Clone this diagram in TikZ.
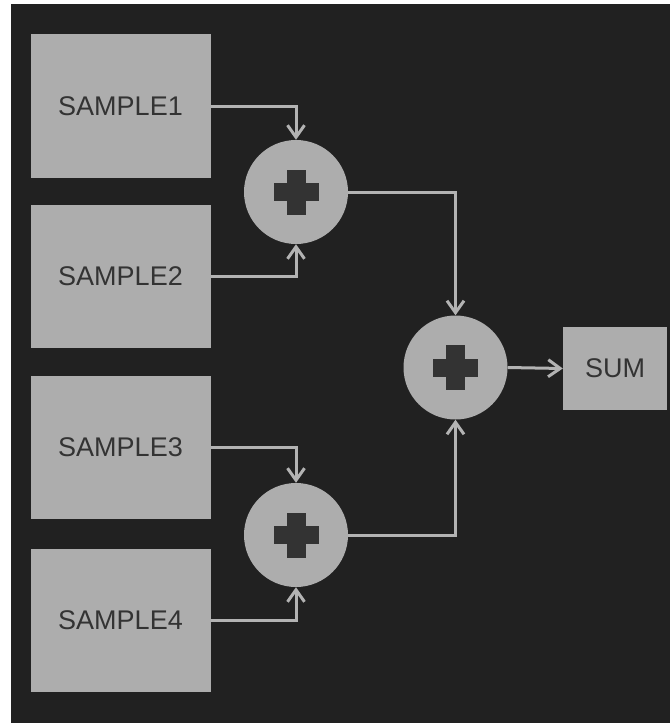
\documentclass[tikz,border=0pt]{standalone}
\usepackage{fontspec}
\setmainfont{Liberation Sans}
\usetikzlibrary{arrows.meta}
\definecolor{bgdark}{HTML}{212121}
\definecolor{boxgray}{HTML}{ADADAD}
\definecolor{linegray}{HTML}{B3B3B3}
\definecolor{inkdark}{HTML}{333333}
\tikzset{
  samplebox/.style={draw=none, fill=boxgray, minimum width=180pt, minimum height=143pt,
    inner sep=0pt, text=inkdark, font=\fontsize{27}{30}\selectfont},
  sumbox/.style={draw=none, fill=boxgray, minimum width=104pt, minimum height=83pt,
    inner sep=0pt, text=inkdark, font=\fontsize{27}{30}\selectfont},
  adder/.style={circle, fill=boxgray, minimum size=104pt, inner sep=0pt,
    path picture={
      \fill[inkdark] ([shift={(-22.5pt,-9pt)}]path picture bounding box.center) rectangle ++(45pt,18pt);
      \fill[inkdark] ([shift={(-9.5pt,-22.5pt)}]path picture bounding box.center) rectangle ++(19pt,45pt);
    }},
  flow/.style={draw=linegray, line width=3pt, -{Straight Barb[length=12pt,width=17pt]}}
}
\begin{document}
\begin{tikzpicture}[x=1pt,y=-1pt]
  % page and dark panel
  \fill[white] (0,0) rectangle (670,725);
  \fill[bgdark] (11,4) rectangle (670,723);
  \useasboundingbox (0,0) rectangle (670,725);

  % inputs
  \node[samplebox] (s1) at (120.5,106) {SAMPLE1};
  \node[samplebox] (s2) at (120.5,276.5) {SAMPLE2};
  \node[samplebox] (s3) at (120.5,447.5) {SAMPLE3};
  \node[samplebox] (s4) at (120.5,620.5) {SAMPLE4};

  % adders
  \node[adder] (c1) at (296,192) {};
  \node[adder] (c3) at (296,535) {};
  \node[adder] (c2) at (455.5,367.5) {};

  % output
  \node[sumbox] (sum) at (615,368.5) {SUM};

  % connections
  \draw[flow] (s1.east) -| (c1.north);
  \draw[flow] (s2.east) -| (c1.south);
  \draw[flow] (s3.east) -| (c3.north);
  \draw[flow] (s4.east) -| (c3.south);
  \draw[flow] (c1.east) -| (c2.north);
  \draw[flow] (c3.east) -| (c2.south);
  \draw[flow] (c2.east) -- (sum.west);
\end{tikzpicture}
\end{document}
